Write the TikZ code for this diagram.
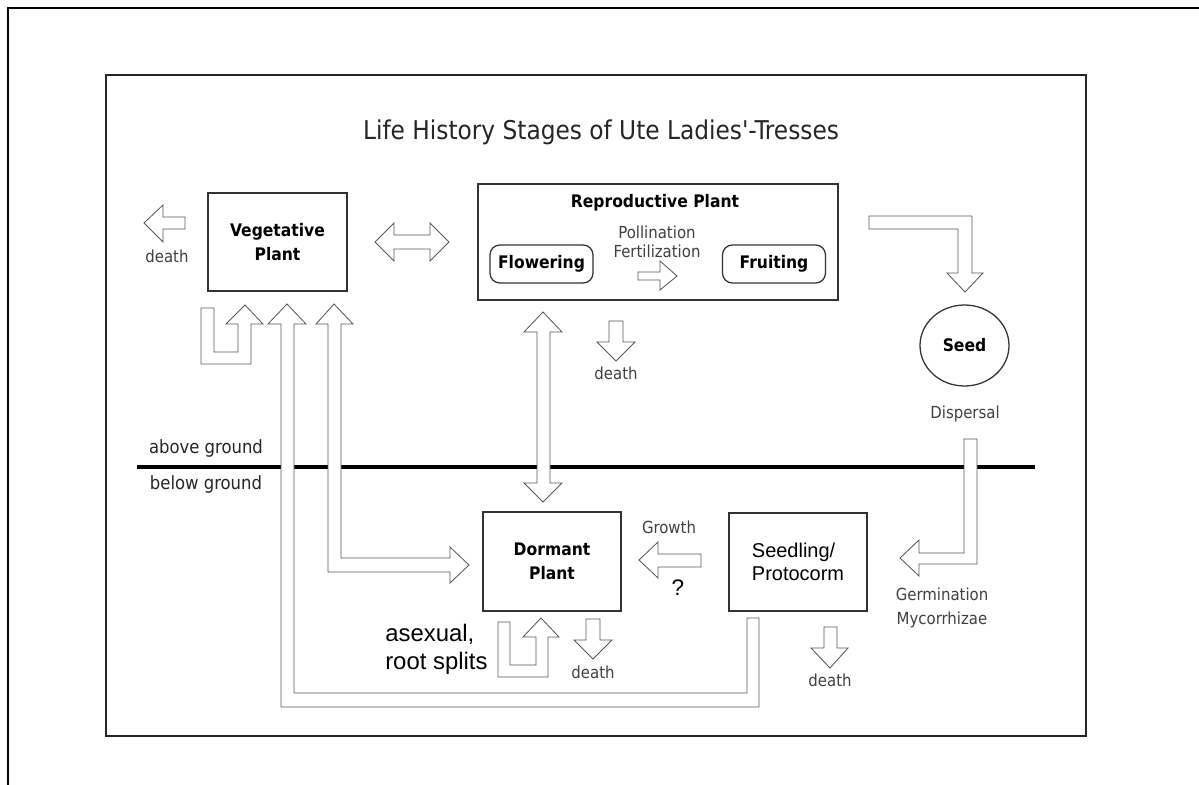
\documentclass[tikz,border=0pt]{standalone}
\usepackage{fontspec}
\setmainfont{DejaVu Sans Condensed}[BoldFont={DejaVu Sans Condensed Bold}]
\newfontfamily\arialfont{Liberation Sans}
\usetikzlibrary{positioning,shapes.geometric}
\newdimen\pxu \pxu=0.025cm

\begin{document}
\begin{tikzpicture}[
  x=0.025cm, y=-0.025cm,
  box/.style={draw=black!80, line width=0.9pt, inner sep=0pt, align=center,
              font=\bfseries\fontsize{12.3}{17}\selectfont},
  sub/.style={box, rounded corners=7pt, minimum width=103\pxu, minimum height=38\pxu},
  blk/.style={draw=black!65, line width=0.6pt, fill=white, line join=miter},
  note/.style={text=black!75, inner sep=0pt, align=center,
               font=\fontsize{11.8}{17}\selectfont},
  big/.style={inner sep=0pt, align=left, font=\arialfont\fontsize{14.2}{16.4}\selectfont}
]
\useasboundingbox (0,0) rectangle (1199,784);
\fill[white] (0,0) rectangle (1199,784);
\draw[line width=1.6pt] (8,800) -- (8,8) -- (1210,8);
\draw[black!85, line width=1.1pt] (106,75) rectangle (1086,736);

\node[text=black!85, font=\fontsize{18.4}{22}\selectfont] (title) at (601,132)
  {Life History Stages of Ute Ladies\textquotesingle-Tresses};

% ground level
\draw[line width=2.4pt] (137,467) -- (1035,467);
\node[text=black!85, font=\fontsize{13}{15}\selectfont] (above) at (206,448) {above ground};
\node[text=black!85, font=\fontsize{13}{15}\selectfont] (below) at (206,484) {below ground};

% block arrows
\draw[blk] (185,217) -- (163,217) -- (163,205) -- (144,223) -- (163,242) -- (163,229) -- (185,229) -- cycle;
\draw[blk] (375,242) -- (394,223) -- (394,235) -- (430,235) -- (430,223) -- (449,242)
  -- (430,261) -- (430,249) -- (394,249) -- (394,261) -- cycle;
\draw[blk] (201,308) -- (214,308) -- (214,352) -- (238,352) -- (238,324) -- (226,324) -- (245,305)
  -- (263,324) -- (251,324) -- (251,364) -- (201,364) -- cycle;
\draw[blk] (747,618) -- (759,618) -- (759,707) -- (281,707) -- (281,324) -- (268,324) -- (287,304)
  -- (306,324) -- (294,324) -- (294,693) -- (747,693) -- cycle;
\draw[blk] (328,324) -- (316,324) -- (334,304) -- (353,324) -- (341,324) -- (341,558) -- (450,558)
  -- (450,547) -- (469,565) -- (450,583) -- (450,572) -- (328,572) -- cycle;
\draw[blk] (543,312) -- (562,332) -- (550,332) -- (550,483) -- (562,483) -- (543,502) -- (524,483)
  -- (537,483) -- (537,332) -- (524,332) -- cycle;
\draw[blk] (609,321) -- (623,321) -- (623,342) -- (635,342) -- (616,361) -- (597,342) -- (609,342) -- cycle;
\draw[blk] (869,216) -- (972,216) -- (972,273) -- (983,273) -- (965,292) -- (947,273) -- (958,273)
  -- (958,229) -- (869,229) -- cycle;
\draw[blk] (964,439) -- (977,439) -- (977,564) -- (919,564) -- (919,576) -- (900,558) -- (919,540)
  -- (919,553) -- (964,553) -- cycle;
\draw[blk] (701,554) -- (658,554) -- (658,542) -- (639,560) -- (658,578) -- (658,567) -- (701,567) -- cycle;
\draw[blk] (586,619) -- (600,619) -- (600,640) -- (612,640) -- (593,659) -- (574,640) -- (586,640) -- cycle;
\draw[blk] (824,627) -- (837,627) -- (837,648) -- (848,648) -- (830,668) -- (811,648) -- (824,648) -- cycle;
\draw[blk] (498,622) -- (510,622) -- (510,665) -- (536,665) -- (536,637) -- (523,637) -- (541,618)
  -- (559,637) -- (548,637) -- (548,677) -- (498,677) -- cycle;

% stages
\node[box, minimum width=139\pxu, minimum height=98\pxu] (veg) at (277.5,242) {Vegetative\\Plant};
\node[box, minimum width=360\pxu, minimum height=116\pxu] (rep) at (658,242) {};
\node[font=\bfseries\fontsize{12.3}{17}\selectfont] (reptitle) at (655,203) {Reproductive Plant};
\node[sub] (flow) at (541.5,264) {Flowering};
\node[sub] (fruit) at (774,264) {Fruiting};
\draw[blk] (638,272) -- (660,272) -- (660,261) -- (677,276) -- (660,290) -- (660,280) -- (638,280) -- cycle;
\node[note, font=\fontsize{11.8}{13.5}\selectfont] (poll) at (657,241.5) {Pollination\\Fertilization};
\node[box, ellipse, minimum width=89\pxu, minimum height=81\pxu] (seed) at (964.5,345.5) {Seed};
\node[box, minimum width=138\pxu, minimum height=99\pxu] (dorm) at (552,561.5) {Dormant\\Plant};
\node[box, minimum width=138\pxu, minimum height=98\pxu,
      font=\arialfont\fontsize{14.2}{16.4}\selectfont, align=left] (seedl) at (798,562) {Seedling/\\Protocorm};

% labels
\node[note] (d1) at (167,256) {death};
\node[note] (d2) at (616,373) {death};
\node[note] (d3) at (593,672) {death};
\node[note] (d4) at (830,680) {death};
\node[note] (disp) at (965,414) {Dispersal};
\node[note] (germ) at (942,608) {Germination\\Mycorrhizae};
\node[note] (grow) at (669,527) {Growth};
\node[big, font=\arialfont\fontsize{16}{18}\selectfont] (qm) at (678,588) {?};
\node[big, anchor=west, font=\arialfont\fontsize{17}{20}\selectfont] (asex) at (385,649) {asexual,\\root splits};
\end{tikzpicture}
\end{document}
